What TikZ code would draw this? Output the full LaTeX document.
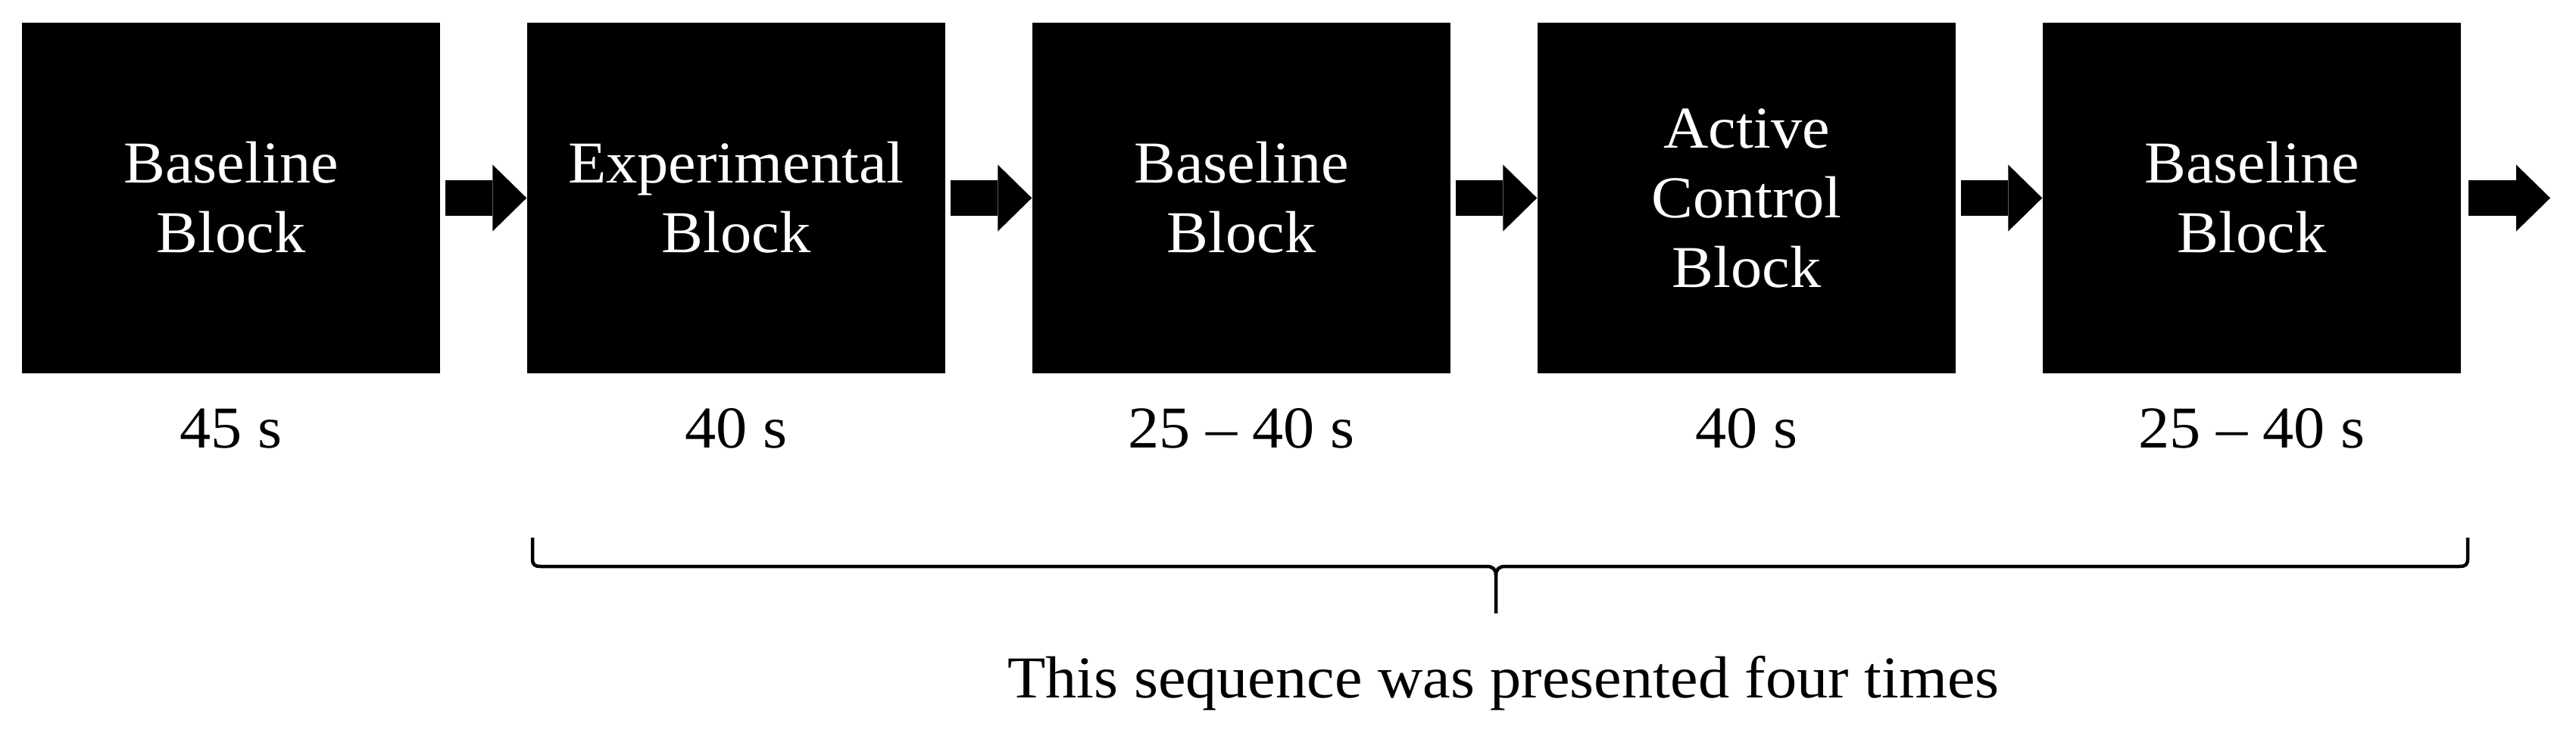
\documentclass[tikz,border=0pt]{standalone}
\usepackage{fontspec}
\setmainfont[FakeStretch=1.05]{Liberation Serif}
\usetikzlibrary{arrows.meta,calc}
\newcommand{\blockfont}{\fontsize{22.3pt}{26.18pt}\selectfont}
\tikzset{
  blockbox/.style={fill=black, draw=none, minimum width=5.52cm, minimum height=4.63cm,
    inner sep=0pt, text=white, align=center, font=\blockfont, text depth=0pt},
  blockarrow/.style={line width=0.47cm, -{Triangle[width=0.88cm,length=0.45cm,line width=0pt]}},
  lbl/.style={font=\blockfont, anchor=base, inner sep=0pt, text=black},
  bracestyle/.style={line width=0.045cm, line join=round}
}
\begin{document}
\begin{tikzpicture}
\useasboundingbox (0,0) rectangle (34.01,-9.68);
% blocks
\node[blockbox, text height=1.44cm] (b1) at (3.05,-2.615) {Baseline\\Block};
\node[blockbox, text height=1.44cm] (b2) at (9.72,-2.615) {Experimental\\Block};
\node[blockbox, text height=1.44cm] (b3) at (16.39,-2.615) {Baseline\\Block};
\node[blockbox, text height=2.36cm] (b4) at (23.06,-2.615) {Active\\Control\\Block};
\node[blockbox, text height=1.44cm] (b5) at (29.73,-2.615) {Baseline\\Block};
% arrows
\coordinate (endtip) at (33.67,-2.615);
\draw[blockarrow] ([xshift=0.06cm]b1.east) -- (b2.west);
\draw[blockarrow] ([xshift=0.06cm]b2.east) -- (b3.west);
\draw[blockarrow] ([xshift=0.06cm]b3.east) -- (b4.west);
\draw[blockarrow] ([xshift=0.06cm]b4.east) -- (b5.west);
\draw[blockarrow] ([xshift=0.09cm]b5.east) -- (endtip);
% durations
\coordinate (labline) at (0,-5.92);
\node[lbl] (d1) at (b1 |- labline) {45 s};
\node[lbl] (d2) at (b2 |- labline) {40 s};
\node[lbl] (d3) at (b3 |- labline) {25 -- 40 s};
\node[lbl] (d4) at (b4 |- labline) {40 s};
\node[lbl] (d5) at (b5 |- labline) {25 -- 40 s};
% brace
\coordinate (brL) at (7.03,-7.10);
\coordinate (brR) at (32.58,-7.10);
\coordinate (brM) at (19.75,-8.10);
\draw[bracestyle] (brL) -- (7.03,-7.38) .. controls (7.03,-7.46) and (7.06,-7.48) .. (7.14,-7.48)
  -- (19.63,-7.48) .. controls (19.71,-7.48) and (19.75,-7.52) .. (19.75,-7.60) -- (brM);
\draw[bracestyle] (19.75,-7.60) .. controls (19.75,-7.52) and (19.79,-7.48) .. (19.87,-7.48)
  -- (32.47,-7.48) .. controls (32.55,-7.48) and (32.58,-7.46) .. (32.58,-7.38) -- (brR);
% caption
\node[lbl] (cap) at (19.85,-9.21) {This sequence was presented four times};
\end{tikzpicture}
\end{document}
